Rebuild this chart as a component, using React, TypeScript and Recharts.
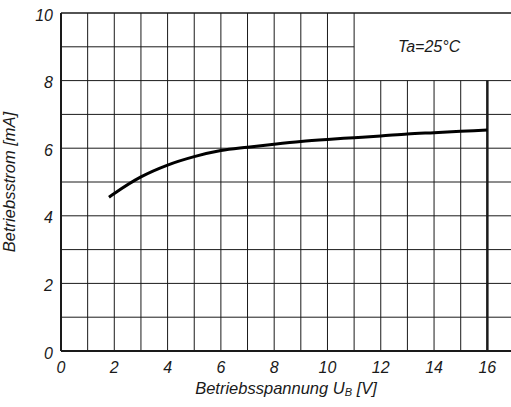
import { ComposedChart, Line, XAxis, YAxis, ReferenceLine, ReferenceArea, Label } from 'recharts'

// Betriebsspannung U_B [V] vs. Betriebsstrom [mA], Ta = 25 °C
const voltage = [1.8, 2, 3, 4, 5, 6, 7, 8, 9, 10, 11, 12, 13, 14, 15, 16]
const current = [4.55, 4.66, 5.15, 5.5, 5.75, 5.93, 6.03, 6.12, 6.2, 6.26, 6.31, 6.36, 6.42, 6.46, 6.5, 6.54]

const xTicks = [0, 2, 4, 6, 8, 10, 12, 14, 16]
const yTicks = [0, 2, 4, 6, 8, 10]

const gridX = [1, 2, 3, 4, 5, 6, 7, 8, 9, 10, 11, 12, 13, 14, 15, 16]
const gridY = [1, 2, 3, 4, 5, 6, 7, 8, 9]

const data = voltage.map((u, i) => ({ u, i: current[i] }))

const FONT = '"Liberation Sans", Arial, sans-serif'
const INK = '#1a1a1a'

// the box holding the temperature note has no grid
function segX(x: number): [{ x: number; y: number }, { x: number; y: number }] {
  const top = x > 11 ? 8 : 10
  return [{ x, y: 0 }, { x, y: top }]
}

function segY(y: number): [{ x: number; y: number }, { x: number; y: number }] {
  const right = y > 8 ? 11 : 17
  return [{ x: 0, y }, { x: right, y }]
}

function XTitle(props: any) {
  const { viewBox } = props
  const cx = viewBox.x + 225
  return (
    <text x={cx} y={394} textAnchor="middle" fontFamily={FONT} fontStyle="italic" fontSize={16.5} fill={INK}>
      Betriebsspannung U
      <tspan fontSize={11} dy={2}>B</tspan>
      <tspan dy={-2}> [V]</tspan>
    </text>
  )
}

export default function App() {
  return (
    <div style={{ position: 'absolute', left: 0, top: 0, width: 511, height: 407, overflow: 'hidden', background: '#fff' }}>
      <ComposedChart width={530} height={407} data={data} margin={{ top: 13, right: 16, bottom: 0, left: 0 }}>
        <XAxis
          dataKey="u"
          type="number"
          domain={[0, 17]}
          ticks={xTicks}
          allowDataOverflow
          axisLine={false}
          tickLine={false}
          height={56}
          tickMargin={5}
          tick={{ fontFamily: FONT, fontStyle: 'italic', fontSize: 16, fill: INK }}
        >
          <Label content={<XTitle />} />
        </XAxis>
        <YAxis
          type="number"
          domain={[0, 10]}
          ticks={yTicks}
          allowDataOverflow
          axisLine={false}
          tickLine={false}
          width={61}
          tick={{ fontFamily: FONT, fontStyle: 'italic', fontSize: 16, fill: INK, dy: 2 }}
        >
          <Label
            value="Betriebsstrom [mA]"
            angle={-90}
            position="insideLeft"
            offset={9}
            style={{ fontFamily: FONT, fontStyle: 'italic', fontSize: 16.5, fill: INK, textAnchor: 'middle' }}
          />
        </YAxis>

        {gridX.map((x) => (
          <ReferenceLine
            key={'gx' + x}
            segment={segX(x)}
            stroke={INK}
            strokeWidth={x === 16 ? 2.5 : 1}
          />
        ))}
        {gridY.map((y) => (
          <ReferenceLine key={'gy' + y} segment={segY(y)} stroke={INK} strokeWidth={1} />
        ))}
        <ReferenceLine segment={[{ x: 0, y: 10 }, { x: 17, y: 10 }]} stroke={INK} strokeWidth={1.5} />
        <ReferenceLine segment={[{ x: 0, y: 0 }, { x: 17, y: 0 }]} stroke={INK} strokeWidth={2} />
        <ReferenceLine segment={[{ x: 0, y: 0 }, { x: 0, y: 10 }]} stroke={INK} strokeWidth={2} />

        <ReferenceArea x1={11} x2={17} y1={8} y2={10} fill="none" stroke="none">
          <Label
            value="Ta=25°C"
            position="center"
            dx={-5}
            style={{ fontFamily: FONT, fontStyle: 'italic', fontSize: 16, fill: INK }}
          />
        </ReferenceArea>

        <Line
          dataKey="i"
          type="monotone"
          stroke="#000"
          strokeWidth={3}
          dot={false}
          isAnimationActive={false}
        />
      </ComposedChart>
    </div>
  )
}
